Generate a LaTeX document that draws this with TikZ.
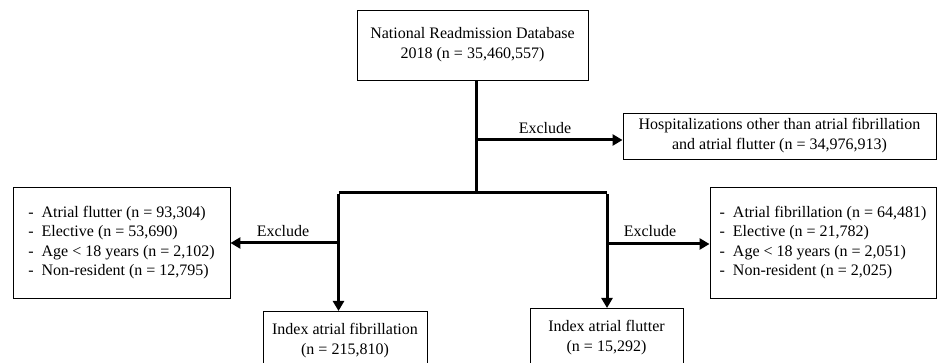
\documentclass[tikz,border=0pt]{standalone}
\usepackage{fontspec}
\setmainfont{Liberation Serif}
\usetikzlibrary{arrows.meta}
\begin{document}
\begin{tikzpicture}[x=1pt,y=-1pt,
  box/.style={draw,line width=0.9pt,inner sep=0pt,align=center,font=\fontsize{16}{20}\selectfont},
  lbl/.style={font=\fontsize{16}{20}\selectfont,inner sep=0pt},
  flow/.style={line width=3pt},
  arr/.style={line width=3pt,-{Triangle[length=10pt,width=11pt]}}]
\useasboundingbox (0,0) rectangle (937,363);
\clip (0,0) rectangle (937,363);
\node[box,minimum width=231pt,minimum height=70pt] (top) at (472.5,45) {National Readmission Database\\2018 (n = 35,460,557)};
\node[box,minimum width=313pt,minimum height=46pt] (hosp) at (779.5,136) {Hospitalizations other than atrial fibrillation\\and atrial flutter (n = 34,976,913)};
\node[box,minimum width=217pt,minimum height=111pt] (lex) at (121.5,242.5) {\renewcommand{\arraystretch}{0.97}\begin{tabular}{@{}l@{\hspace{8pt}}l@{}}
-&Atrial flutter (n = 93,304)\\
-&Elective (n = 53,690)\\
-&Age < 18 years (n = 2,102)\\
-&Non-resident (n = 12,795)\end{tabular}};
\node[box,minimum width=226pt,minimum height=111pt] (rex) at (823,242.5) {\renewcommand{\arraystretch}{0.97}\begin{tabular}{@{}l@{\hspace{8pt}}l@{}}
-&Atrial fibrillation (n = 64,481)\\
-&Elective (n = 21,782)\\
-&Age < 18 years (n = 2,051)\\
-&Non-resident (n = 2,025)\end{tabular}};
\node[draw,line width=0.9pt,minimum width=164pt,minimum height=70pt,anchor=north] (iaf) at (345,311) {};
\node[lbl,align=center] (iaft) at (345,341) {Index atrial fibrillation\\(n = 215,810)};
\node[draw,line width=0.9pt,minimum width=153pt,minimum height=70pt,anchor=north] (ifl) at (606.5,308) {};
\node[lbl,align=center] (iflt) at (606.5,337.5) {Index atrial flutter\\(n = 15,292)};
\coordinate (j1) at (476,140);
\coordinate (j2) at (476,193);
\coordinate (bl) at (338.5,193);
\coordinate (br) at (607,193);
\coordinate (jl) at (338.5,243);
\coordinate (jr) at (607,244);
\draw[flow] (top.south -| j1) -- (j2);
\draw[arr] (j1) -- (j1 -| hosp.west);
\draw[flow] (bl) -- (br);
\draw[arr] ([yshift=-1.5pt]bl) -- (bl |- iaf.north);
\draw[arr] ([yshift=-1.5pt]br) -- (br |- ifl.north);
\draw[arr] (jl) -- (jl -| lex.east);
\draw[arr] (jr) -- (jr -| rex.west);
\node[lbl] (e1) at (545,128) {Exclude};
\node[lbl] (e2) at (283,231) {Exclude};
\node[lbl] (e3) at (650,231) {Exclude};
\end{tikzpicture}
\end{document}
